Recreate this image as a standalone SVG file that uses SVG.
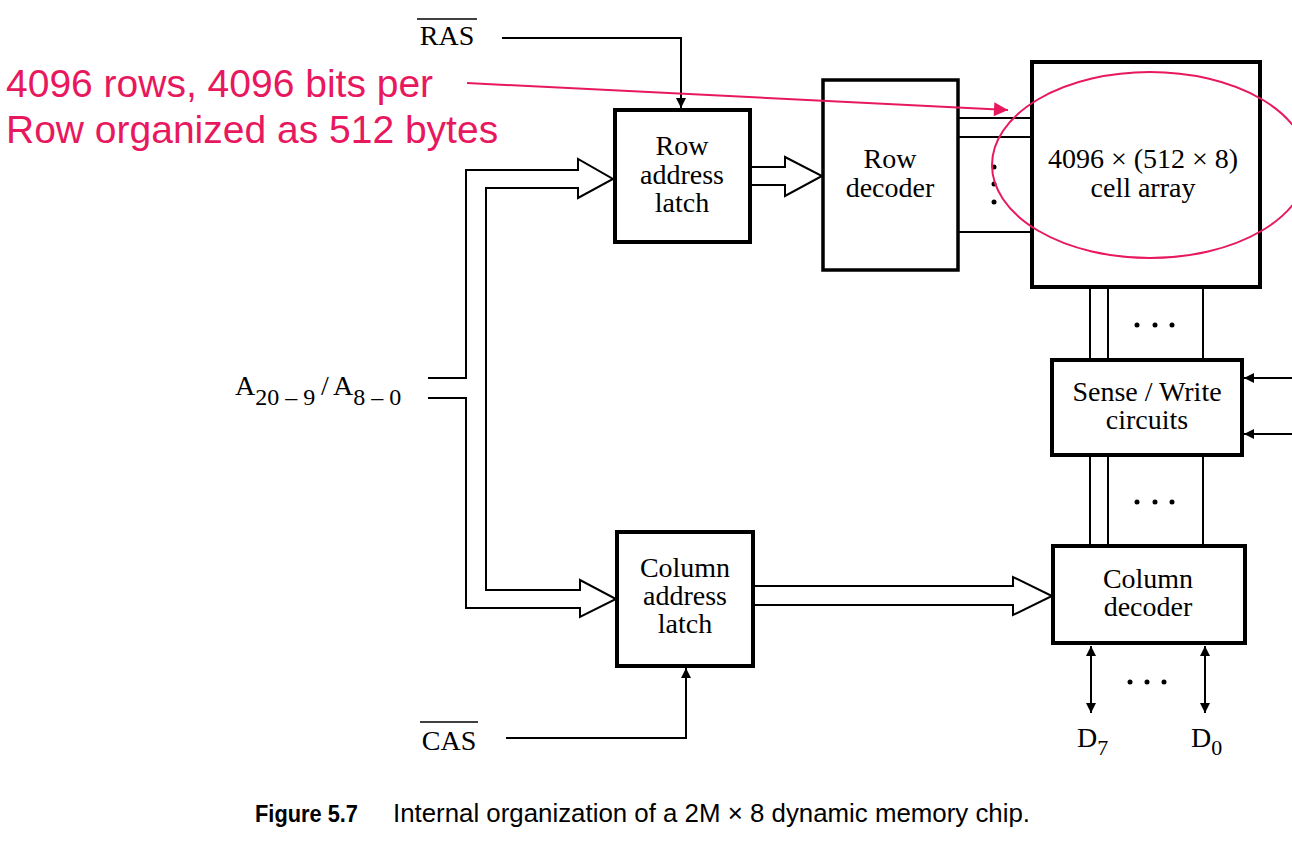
<svg xmlns="http://www.w3.org/2000/svg" width="1292" height="861" viewBox="0 0 1292 861">
<defs>
<style>
.box{fill:#fff;stroke:#000;stroke-width:4}
.ln{fill:none;stroke:#000;stroke-width:2}
.t{font-family:"Liberation Serif","Times New Roman",serif;font-size:28px;fill:#000;text-anchor:middle}
.pk{font-family:"Liberation Sans",Arial,sans-serif;font-size:39px;fill:#E8185F}
.dot{fill:#000}
</style>
<marker id="ah" viewBox="0 0 10 10" refX="10" refY="5" markerWidth="14" markerHeight="10" markerUnits="userSpaceOnUse" orient="auto-start-reverse">
<path d="M0,0 L10,5 L0,10 z" fill="#000"/>
</marker>
<marker id="pah" viewBox="0 0 10 10" refX="10" refY="5" markerWidth="18" markerHeight="14" markerUnits="userSpaceOnUse" orient="auto">
<path d="M0,0 L10,5 L0,10 z" fill="#E8185F"/>
</marker>
</defs>
<rect width="1292" height="861" fill="#fff"/>

<g id="connectors">
<path class="ln" d="M428,378 H466 V170 H578 V159 L613,179 L578,198 V188 H486 V590 H580 V580 L616,599 L580,617 V608 H466 V398 H428"/>
<path class="ln" d="M751,167 H785 V157 L822,176 L785,196 V185 H751"/>
<path class="ln" d="M753,586 H1013 V577 L1052,596 L1013,615 V605 H753"/>
<path class="ln" d="M502,38 H681 V108" marker-end="url(#ah)"/>
<path class="ln" d="M506,738 H686 V668" marker-end="url(#ah)"/>
<path class="ln" d="M958,118 H1032 M958,137 H1032 M958,232 H1032"/>
<circle class="dot" cx="994" cy="167" r="2.5"/>
<circle class="dot" cx="994" cy="184" r="2.5"/>
<circle class="dot" cx="994" cy="202" r="2.5"/>
<path class="ln" d="M1090,287 V360 M1108,287 V360 M1203,287 V360"/>
<circle class="dot" cx="1137" cy="325" r="2.5"/>
<circle class="dot" cx="1155" cy="325" r="2.5"/>
<circle class="dot" cx="1172" cy="325" r="2.5"/>
<path class="ln" d="M1090,455 V546 M1108,455 V546 M1203,455 V546"/>
<circle class="dot" cx="1137" cy="502" r="2.5"/>
<circle class="dot" cx="1155" cy="502" r="2.5"/>
<circle class="dot" cx="1172" cy="502" r="2.5"/>
<path class="ln" d="M1292,378 H1244" marker-end="url(#ah)"/>
<path class="ln" d="M1292,434 H1244" marker-end="url(#ah)"/>
<path class="ln" d="M1091,646 V713" marker-start="url(#ah)" marker-end="url(#ah)"/>
<path class="ln" d="M1205,646 V713" marker-start="url(#ah)" marker-end="url(#ah)"/>
<circle class="dot" cx="1130" cy="682" r="2.5"/>
<circle class="dot" cx="1147" cy="682" r="2.5"/>
<circle class="dot" cx="1164" cy="682" r="2.5"/>
</g>

<g id="row-latch">
<rect class="box" x="615" y="110" width="135" height="132"/>
<text class="t" x="682" y="155">Row</text>
<text class="t" x="682" y="184">address</text>
<text class="t" x="682" y="212">latch</text>
</g>

<g id="row-decoder">
<rect class="box" x="823" y="80" width="135" height="190" style="stroke-width:3.5"/>
<text class="t" x="890" y="168">Row</text>
<text class="t" x="890" y="197">decoder</text>
</g>

<g id="cell-array">
<rect class="box" x="1032" y="62" width="228" height="225"/>
<text class="t" x="1143" y="168">4096 × (512 × 8)</text>
<text class="t" x="1143" y="197">cell array</text>
</g>

<g id="sense-write">
<rect class="box" x="1052" y="360" width="190" height="95"/>
<text class="t" x="1147" y="401">Sense / Write</text>
<text class="t" x="1147" y="429">circuits</text>
</g>

<g id="column-decoder">
<rect class="box" x="1053" y="546" width="192" height="97"/>
<text class="t" x="1148" y="588">Column</text>
<text class="t" x="1148" y="616">decoder</text>
</g>

<g id="column-latch">
<rect class="box" x="617" y="532" width="136" height="134"/>
<text class="t" x="685" y="577">Column</text>
<text class="t" x="685" y="605">address</text>
<text class="t" x="685" y="633">latch</text>
</g>

<g id="labels">
<text class="t" x="447" y="45">RAS</text>
<line x1="417" y1="19" x2="477" y2="19" stroke="#000" stroke-width="1.5"/>
<text class="t" x="449" y="750">CAS</text>
<line x1="420" y1="722" x2="478" y2="722" stroke="#000" stroke-width="1.5"/>
<text class="t" x="235" y="395" style="text-anchor:start">A<tspan font-size="24" dy="10">20 – 9</tspan><tspan x="321" dy="-10">/</tspan><tspan x="333">A</tspan><tspan font-size="24" dy="10">8 – 0</tspan></text>
<text class="t" x="1077" y="747" style="text-anchor:start">D<tspan font-size="22" dy="8">7</tspan></text>
<text class="t" x="1191" y="747" style="text-anchor:start">D<tspan font-size="22" dy="8">0</tspan></text>
</g>

<g id="annotation">
<text class="pk" x="6" y="97">4096 rows, 4096 bits per</text>
<text class="pk" x="6" y="143">Row organized as 512 bytes</text>
<line x1="467" y1="83" x2="1008" y2="110" stroke="#E8185F" stroke-width="2" marker-end="url(#pah)"/>
<ellipse cx="1150" cy="165" rx="158" ry="93" fill="none" stroke="#E8185F" stroke-width="2"/>
</g>

<g id="caption">
<text x="255" y="822" textLength="103" lengthAdjust="spacingAndGlyphs" style="font-family:'Liberation Sans',Arial,sans-serif;font-size:24px;font-weight:bold">Figure 5.7</text>
<text x="393" y="822" textLength="637" lengthAdjust="spacingAndGlyphs" style="font-family:'Liberation Sans',Arial,sans-serif;font-size:26px">Internal organization of a 2M × 8 dynamic memory chip.</text>
</g>
</svg>
